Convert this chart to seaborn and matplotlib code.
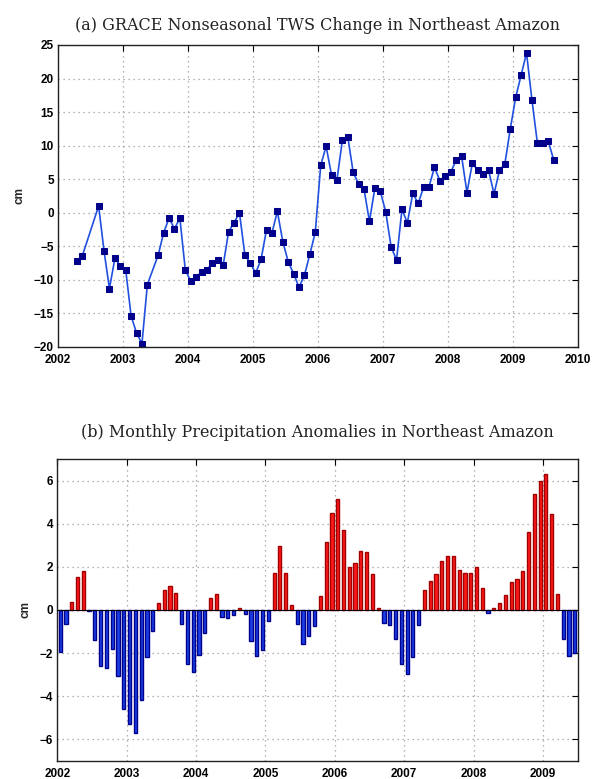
import numpy as np
import pandas as pd
import matplotlib
matplotlib.use("Agg")
import matplotlib.pyplot as plt
import seaborn as sns

# ---------------- data ----------------
grace_months = (["2002-04", "2002-05"] +
                ["2002-%02d" % m for m in range(8, 13)] +
                ["2003-%02d" % m for m in range(1, 6)] +
                ["2003-%02d" % m for m in range(7, 13)] +
                ["%d-%02d" % (y, m) for y in range(2004, 2009) for m in range(1, 13)] +
                ["2009-%02d" % m for m in range(1, 9)])
grace_tws = [-7.25, -6.4, 1.0, -5.7, -11.3, -6.8, -7.9,
             -8.5, -15.4, -17.9, -19.5, -10.7, -6.3, -3.0, -0.8, -2.4, -0.8, -8.5,
             -10.2, -9.6, -8.8, -8.5, -7.5, -7.1, -7.8, -2.8, -1.5, 0.0, -6.3, -7.5,
             -9.0, -6.9, -2.5, -3.0, 0.2, -4.3, -7.3, -9.1, -11.1, -9.3, -6.2, -2.9,
             7.05, 9.9, 5.6, 4.9, 10.8, 11.3, 6.0, 4.3, 3.5, -1.3, 3.7, 3.2,
             0.15, -5.1, -7.05, 0.5, -1.5, 2.9, 1.4, 3.8, 3.9, 6.75, 4.8, 5.5,
             6.05, 7.8, 8.5, 3.0, 7.4, 6.3, 5.8, 6.3, 2.8, 6.3, 7.3, 12.5,
             17.2, 20.5, 23.8, 16.8, 10.4, 10.45, 10.7, 7.9]

precip_months = ["%d-%02d" % (y, m) for y in range(2002, 2010) for m in range(1, 13)][:90]
precip_anom = [-1.94, -0.63, 0.39, 1.53, 1.8, -0.03, -1.4, -2.6, -2.7, -1.82, -3.07, -4.6,
               -5.3, -5.7, -4.17, -2.2, -0.97, 0.31, 0.94, 1.1, 0.77, -0.65, -2.53, -2.9,
               -2.07, -1.05, 0.56, 0.74, -0.34, -0.37, -0.25, 0.09, -0.19, -1.44, -2.13, -1.87,
               -0.51, 1.73, 2.98, 1.7, 0.23, -0.65, -1.59, -1.2, -0.74, 0.65, 3.16, 4.52,
               5.15, 3.73, 1.98, 2.2, 2.72, 2.68, 1.67, 0.08, -0.59, -0.69, -1.33, -2.5,
               -2.98, -2.2, -0.71, 0.94, 1.34, 1.67, 2.27, 2.5, 2.5, 1.87, 1.71, 1.71,
               1.98, 1.03, -0.15, 0.09, 0.31, 0.71, 1.3, 1.42, 1.79, 3.61, 5.39, 6.0,
               6.34, 4.44, 0.73, -1.36, -2.13, -2.02]

top_xticks = list(range(2002, 2011))
top_yticks = list(range(-20, 26, 5))
bot_xticks = list(range(2002, 2010))
bot_yticks = [-6, -4, -2, 0, 2, 4, 6]

title_a = "(a) GRACE Nonseasonal TWS Change in Northeast Amazon"
title_b = "(b) Monthly Precipitation Anomalies in Northeast Amazon"


def to_decimal(ym):
    y, m = ym.split("-")
    return int(y) + (int(m) - 0.5) / 12.0


df_a = pd.DataFrame({"t": [to_decimal(s) for s in grace_months], "tws": grace_tws})
df_b = pd.DataFrame({"t": [to_decimal(s) for s in precip_months], "p": precip_anom})

# ---------------- figure ----------------
sns.set_theme(style="white")
plt.rcParams["font.family"] = ["Liberation Sans", "DejaVu Sans"]

fig = plt.figure(figsize=(5.93, 7.79), dpi=100)
ax1 = fig.add_axes([0.0978, 0.5546, 0.8769, 0.3877])
ax2 = fig.add_axes([0.0966, 0.0235, 0.8776, 0.3869])

grid_kw = dict(color="#9a9a9a", linestyle=(0, (1, 3)), linewidth=0.9)

# top: line plot
sns.lineplot(data=df_a, x="t", y="tws", ax=ax1, color="#2050e0", linewidth=1.2,
             marker="s", markersize=4.0, markerfacecolor="#00008b",
             markeredgecolor="#00008b", sort=False)
ax1.set_xlim(2002, 2010)
ax1.set_ylim(-20, 25)
ax1.set_xticks(top_xticks)
ax1.set_yticks(top_yticks)

# bottom: bars
pos = df_b[df_b["p"] >= 0]
neg = df_b[df_b["p"] < 0]
sns.barplot(data=pos, x="t", y="p", ax=ax2, native_scale=True, color="#ff1a1a",
            edgecolor="#a00000", linewidth=1.0, width=0.55, errorbar=None, saturation=1)
sns.barplot(data=neg, x="t", y="p", ax=ax2, native_scale=True, color="#1a3fe6",
            edgecolor="#00008b", linewidth=1.0, width=0.55, errorbar=None, saturation=1)
ax2.axhline(0, color="black", linewidth=0.8, zorder=3)
ax2.set_xlim(2002, 2009.5)
ax2.set_ylim(-7, 7)
ax2.set_xticks(bot_xticks)
ax2.set_yticks(bot_yticks)

for ax, title, tpad in [(ax1, title_a, 11), (ax2, title_b, 16)]:
    ax.grid(True, **grid_kw)
    ax.set_axisbelow(True)
    ax.set_xticklabels([str(v) for v in ax.get_xticks().astype(int)])
    ax.tick_params(direction="in", length=4, width=0.8, top=True, right=True,
                   labelsize=8.5, pad=3, colors="black")
    ax.tick_params(axis="x", pad=5)
    for lab in ax.get_xticklabels() + ax.get_yticklabels():
        lab.set_fontweight("bold")
    for sp in ax.spines.values():
        sp.set_color("#222222")
        sp.set_linewidth(1.0)
    ax.set_xlabel("")
    ax.set_ylabel("cm", fontsize=8.5, fontweight="bold", labelpad=6)
    ax.set_title(title, family=["DejaVu Serif"], fontsize=11.5, pad=tpad, color="#222222")

fig.savefig("out.png", dpi=100)
